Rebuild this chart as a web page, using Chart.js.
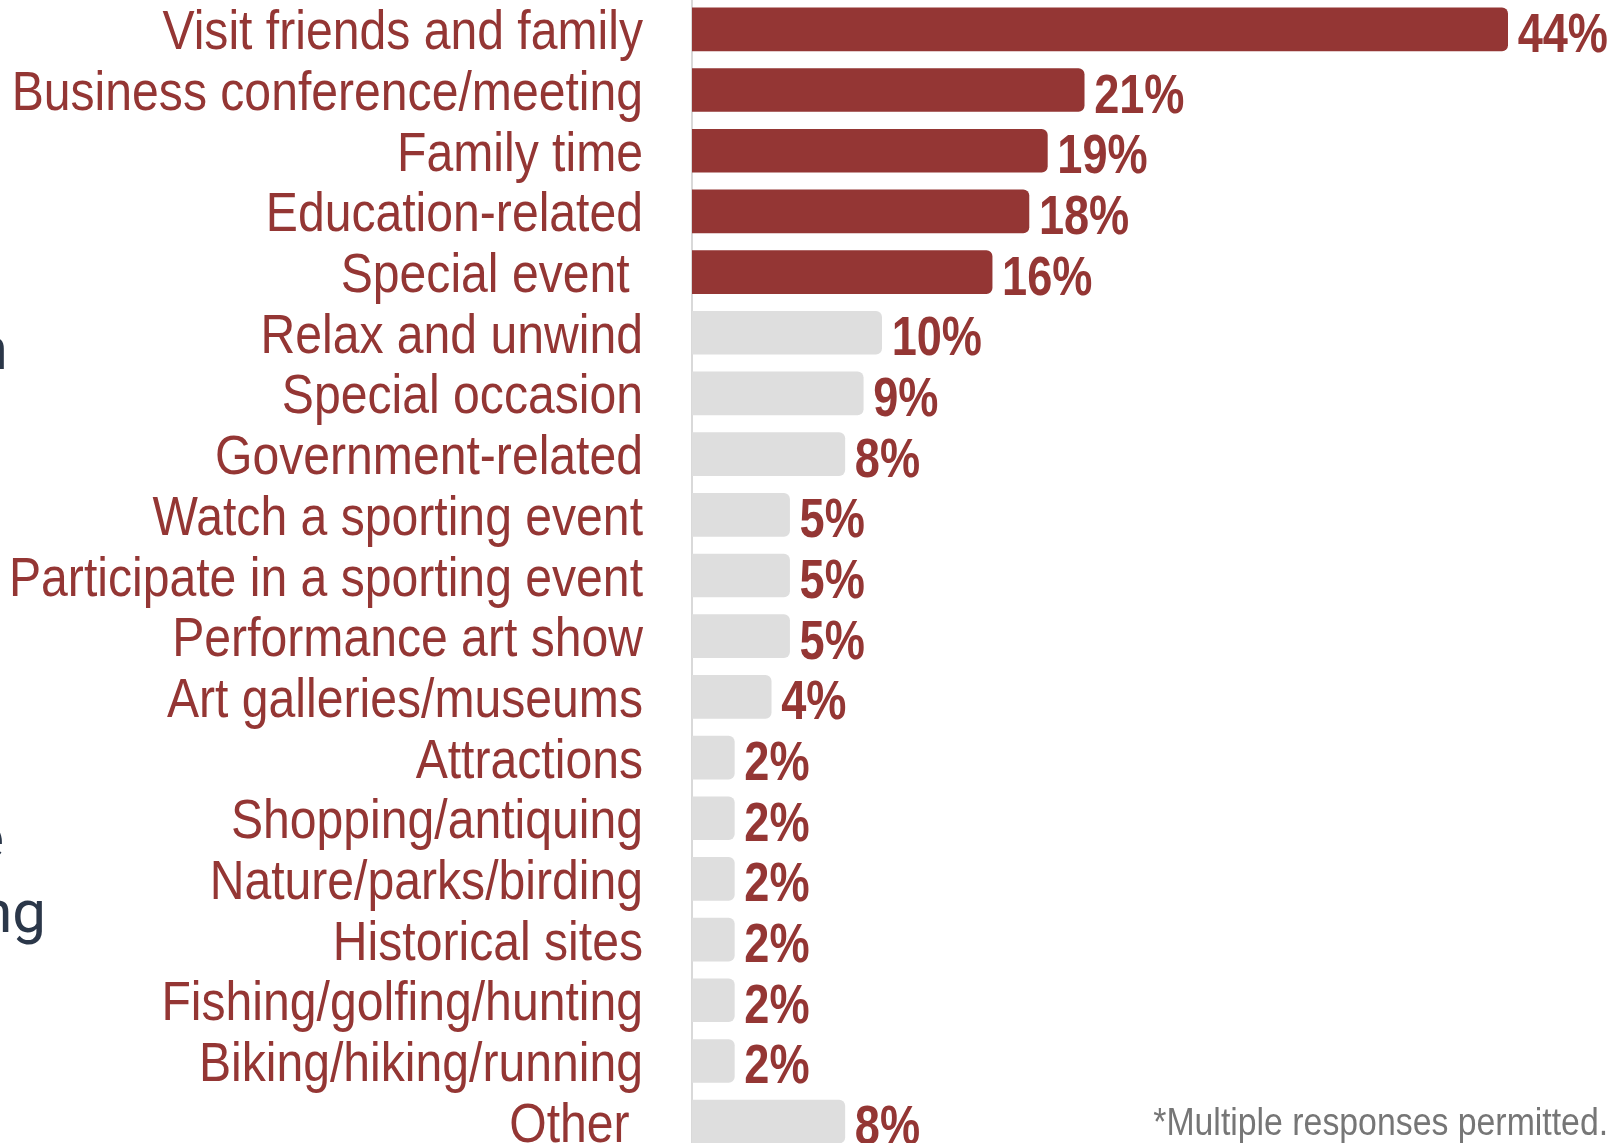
<!DOCTYPE html>
<html>
<head>
<meta charset="utf-8">
<script src="https://cdn.jsdelivr.net/npm/chart.js@4/dist/chart.umd.min.js"></script>
<style>
  html, body { margin: 0; padding: 0; width: 1613px; height: 1143px; overflow: hidden; background: #ffffff; }
  #wrap { position: absolute; left: 0; top: -1px; width: 1613px; height: 1153px; }
  .frag { position: absolute; font-family: Roboto, "Open Sans", sans-serif; font-size: 60px; color: #2b3749; white-space: nowrap; line-height: 1; text-align: right; width: 300px; }
  #note { position: absolute; right: 5px; top: 1103px; font-family: "Liberation Sans", Arial, sans-serif; font-size: 38px; color: #767676; white-space: nowrap; line-height: 1; transform: scaleX(0.89); transform-origin: right top; }
</style>
</head>
<body>
<div class="frag" style="left:-292px; top:319px;">n</div>
<div class="frag" style="left:-296px; top:808px;">e</div>
<div class="frag" style="left:-254px; top:882px;">ng</div>
<div id="wrap"><canvas id="c" width="1613" height="1153"></canvas></div>
<div id="note">*Multiple responses permitted.</div>
<script>
// Reasons for the trip, share of respondents (%)
const categories = [
  "Visit friends and family",
  "Business conference/meeting",
  "Family time",
  "Education-related",
  "Special event ",
  "Relax and unwind",
  "Special occasion",
  "Government-related",
  "Watch a sporting event",
  "Participate in a sporting event",
  "Performance art show",
  "Art galleries/museums",
  "Attractions",
  "Shopping/antiquing",
  "Nature/parks/birding",
  "Historical sites",
  "Fishing/golfing/hunting",
  "Biking/hiking/running",
  "Other "
];
const shares = [44, 21, 19, 18, 16, 10, 9, 8, 5, 5, 5, 4, 2, 2, 2, 2, 2, 2, 8];
// the five leading reasons are highlighted
const highlightCount = 5;

const RED = "#943634";
const GREY = "#dedede";
const FONT = '"Liberation Sans", Arial, sans-serif';
// value axis range; bars grow from the axis line at its left end
const X_MIN = -0.3;
const X_MAX = 48.2;

// Narrow-set text: draw with a horizontal squeeze around the anchor point
function narrowText(ctx, text, x, y, squeeze) {
  ctx.save();
  ctx.translate(x, y);
  ctx.scale(squeeze, 1);
  ctx.fillText(text, 0, 0);
  ctx.restore();
}

// Category names at the y-scale tick positions
const categoryLabels = {
  id: "categoryLabels",
  afterDraw(chart) {
    const ctx = chart.ctx;
    const y = chart.scales.y;
    ctx.save();
    ctx.font = "55px " + FONT;
    ctx.fillStyle = RED;
    ctx.textAlign = "right";
    ctx.textBaseline = "alphabetic";
    y.ticks.forEach((t, i) => {
      narrowText(ctx, categories[i], y.right - 49, y.getPixelForTick(i) + 20, 0.875);
    });
    ctx.restore();
  }
};

// Percent value at the end of each bar
const valueLabels = {
  id: "valueLabels",
  afterDatasetsDraw(chart) {
    const ctx = chart.ctx;
    const meta = chart.getDatasetMeta(0);
    ctx.save();
    ctx.font = "bold 55px " + FONT;
    ctx.fillStyle = RED;
    ctx.textAlign = "left";
    ctx.textBaseline = "alphabetic";
    meta.data.forEach((bar, i) => {
      narrowText(ctx, shares[i] + "%", bar.x + 10, bar.y + 22.5, 0.82);
    });
    ctx.restore();
  }
};

new Chart(document.getElementById("c"), {
  type: "bar",
  data: {
    labels: categories,
    datasets: [{
      data: shares,
      base: X_MIN,
      backgroundColor: shares.map((v, i) => i < highlightCount ? RED : GREY),
      borderRadius: 6,
      borderSkipped: "start",
      barThickness: 43
    }]
  },
  options: {
    indexAxis: "y",
    responsive: false,
    animation: false,
    layout: { padding: { left: 0, right: 28, top: 0, bottom: 0 } },
    plugins: { legend: { display: false }, tooltip: { enabled: false } },
    scales: {
      x: { display: false, min: X_MIN, max: X_MAX },
      y: {
        afterFit(scale) {
          scale.width = 692;
          scale.paddingTop = 0;
          scale.paddingBottom = 0;
        },
        grid: { display: false, drawTicks: false },
        border: { display: true, color: "#d9d9d9", width: 2 },
        ticks: { display: false, autoSkip: false }
      }
    }
  },
  plugins: [valueLabels, categoryLabels]
});
</script>
</body>
</html>
